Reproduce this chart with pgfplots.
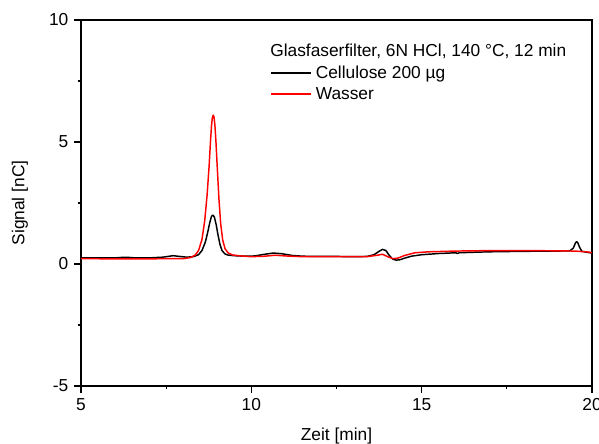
\documentclass[border=0pt]{standalone}
\usepackage{pgfplots}
\pgfplotsset{compat=1.18}
\usepackage{fontspec}
\setmainfont{Liberation Sans}

% Chromatogram traces: time [min], signal [nC]
\pgfplotstableread{
t y
5.00 0.25
5.50 0.25
6.00 0.25
6.20 0.27
6.40 0.27
6.60 0.25
7.00 0.25
7.40 0.28
7.70 0.34
7.90 0.31
8.10 0.28
8.30 0.30
8.45 0.38
8.55 0.55
8.65 0.90
8.72 1.30
8.78 1.70
8.83 1.95
8.86 2.00
8.89 1.98
8.92 1.90
8.97 1.60
9.02 1.20
9.08 0.80
9.14 0.55
9.22 0.42
9.30 0.37
9.50 0.34
9.80 0.32
10.10 0.33
10.40 0.40
10.65 0.45
10.90 0.42
11.20 0.35
11.50 0.32
12.00 0.31
12.50 0.31
13.00 0.30
13.40 0.31
13.60 0.38
13.75 0.52
13.85 0.60
13.95 0.55
14.05 0.35
14.15 0.20
14.25 0.16
14.35 0.17
14.50 0.24
14.70 0.32
15.00 0.38
15.50 0.43
16.00 0.46
16.05 0.43
16.10 0.46
16.50 0.48
17.00 0.50
18.00 0.52
19.00 0.53
19.35 0.54
19.45 0.65
19.52 0.88
19.55 0.91
19.58 0.88
19.63 0.70
19.70 0.52
19.85 0.48
20.00 0.45
}\cellulose

\pgfplotstableread{
t y
5.00 0.22
6.00 0.21
7.00 0.21
7.50 0.22
8.00 0.22
8.20 0.26
8.35 0.36
8.45 0.55
8.55 1.00
8.63 1.75
8.70 2.80
8.76 4.00
8.80 5.00
8.83 5.65
8.855 6.00
8.88 6.10
8.905 6.02
8.93 5.70
8.96 5.05
9.00 3.95
9.05 2.65
9.10 1.65
9.16 0.98
9.23 0.62
9.32 0.45
9.45 0.37
9.70 0.33
10.00 0.30
10.40 0.32
10.70 0.36
11.00 0.33
11.50 0.30
12.50 0.30
13.40 0.30
13.70 0.36
13.85 0.40
14.00 0.30
14.15 0.22
14.30 0.24
14.50 0.35
14.80 0.46
15.20 0.50
16.00 0.53
17.00 0.55
18.00 0.55
19.00 0.54
19.50 0.53
19.90 0.49
20.00 0.46
}\wasser

\newcommand{\legstrut}{\rule[-3.5pt]{0pt}{15pt}}

\begin{document}
\begin{tikzpicture}
\fontsize{13}{15.6}\selectfont
\begin{axis}[
  scale only axis,
  width=383.25pt, height=274.5pt,
  xmin=5, xmax=20, ymin=-5, ymax=10,
  xtick={5,10,15,20}, minor xtick={7.5,12.5,17.5},
  ytick={-5,0,5,10}, minor ytick={-2.5,2.5,7.5},
  tick pos=left, tick align=outside,
  major tick length=5pt, minor tick length=2.6pt,
  every tick/.style={black, line width=0.8pt},
  axis line style={line width=1pt},
  /pgf/number format/assume math mode=true,
  ticklabel style={font=\fontsize{13}{15.6}\selectfont},
  xlabel={Zeit [min]}, ylabel={Signal [nC]},
  label style={font=\fontsize{13}{15.6}\selectfont},
  xlabel style={at={([yshift=-40.5pt]axis description cs:0.5,0)}, anchor=base},
  ylabel style={at={([xshift=-42.5pt]axis description cs:0,0.5)}, anchor=base},
  legend style={at={(rel axis cs:0.37,0.8825)}, anchor=north west,
    draw=none, fill=none, inner sep=0pt, row sep=2.3pt,
    font=\fontsize{13}{15.6}\selectfont,
    nodes={inner sep=0pt}},
  legend cell align=left,
  legend image code/.code={%
    \draw[#1] plot coordinates {(0pt,-0.5pt) (15pt,-0.5pt) (30pt,-0.5pt)};},
]
\addplot[black, line width=1.1pt, no marks, line join=round] table[x=t, y=y] {\cellulose};
\addlegendentry{\legstrut\hspace{3pt}Cellulose 200 µg}
\addplot[red, line width=1.1pt, no marks, line join=round] table[x=t, y=y] {\wasser};
\addlegendentry{\legstrut\hspace{3pt}Wasser}
\node[anchor=base west, inner sep=0pt] at (rel axis cs:0.37,0.8997)
  {Glasfaserfilter, 6N HCl, 140 °C, 12 min};
\end{axis}
\pgfresetboundingbox
\path[use as bounding box] ([shift={(-60.75pt,-42.75pt)}]current axis.south west)
  rectangle ++(449.25pt,332.25pt);
\end{tikzpicture}
\end{document}
